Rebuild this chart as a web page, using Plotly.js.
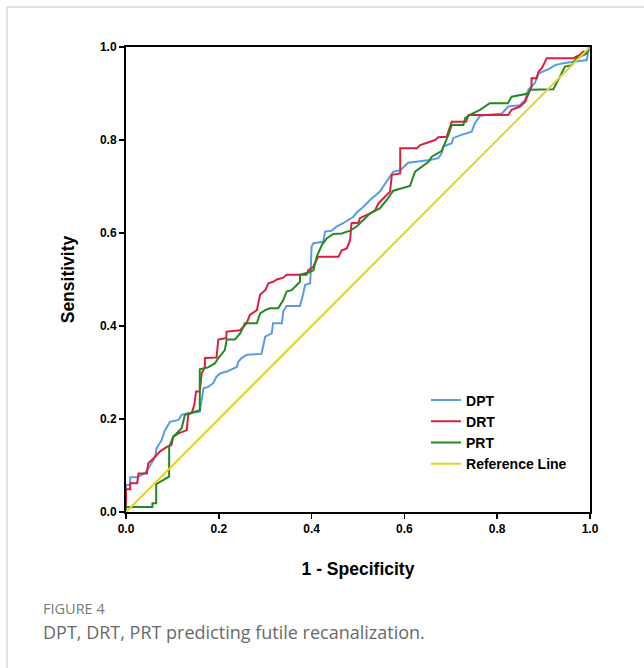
<!DOCTYPE html>
<html>
<head>
<meta charset="utf-8">
<script src="https://cdn.plot.ly/plotly-3.0.1.min.js"></script>
<style>
html,body{margin:0;padding:0;background:#fff;}
#chart{width:644px;height:668px;}
</style>
</head>
<body>
<div id="chart"></div>
<script>
// ROC points (1 - specificity, sensitivity)
const seriesNames = ["DPT", "DRT", "PRT", "Reference Line"];

const fprDPT = [0,0,0.009,0.009,0.024,0.041,0.055,0.063,0.066,0.077,0.084,0.095,0.113,0.120,0.131,0.159,0.167,0.177,0.188,0.195,0.203,0.217,0.239,0.242,0.249,0.260,0.292,0.300,0.314,0.317,0.336,0.339,0.346,0.375,0.382,0.386,0.397,0.400,0.404,0.425,0.429,0.443,0.454,0.468,0.490,0.497,0.508,0.526,0.547,0.562,0.576,0.591,0.608,0.655,0.673,0.680,0.684,0.702,0.705,0.723,0.745,0.752,0.763,0.810,0.824,0.849,0.860,0.867,0.881,0.889,0.899,0.914,0.925,0.942,0.993,0.996,1];
const tprDPT = [0,0.058,0.058,0.075,0.075,0.084,0.105,0.119,0.137,0.155,0.176,0.194,0.198,0.209,0.212,0.216,0.266,0.269,0.277,0.291,0.298,0.302,0.312,0.323,0.331,0.338,0.340,0.377,0.384,0.406,0.406,0.431,0.443,0.443,0.470,0.488,0.492,0.571,0.578,0.581,0.603,0.605,0.614,0.621,0.635,0.644,0.653,0.671,0.689,0.710,0.732,0.735,0.751,0.757,0.761,0.771,0.786,0.793,0.804,0.811,0.818,0.836,0.852,0.857,0.872,0.875,0.886,0.908,0.922,0.943,0.947,0.954,0.961,0.965,0.972,0.990,1];

const fprDRT = [0,0,0.009,0.009,0.024,0.027,0.045,0.048,0.059,0.073,0.088,0.098,0.102,0.113,0.131,0.134,0.142,0.147,0.151,0.159,0.163,0.170,0.170,0.195,0.199,0.216,0.217,0.246,0.260,0.267,0.282,0.289,0.300,0.307,0.317,0.325,0.339,0.346,0.389,0.393,0.404,0.414,0.458,0.465,0.476,0.483,0.486,0.501,0.504,0.526,0.537,0.544,0.551,0.562,0.569,0.573,0.591,0.591,0.627,0.634,0.651,0.666,0.673,0.691,0.702,0.733,0.738,0.824,0.831,0.849,0.860,0.867,0.874,0.874,0.885,0.889,0.896,0.907,0.964,0.978,0.985,0.993,0.996,1];
const tprDRT = [0,0.049,0.049,0.062,0.062,0.083,0.083,0.105,0.115,0.130,0.140,0.144,0.162,0.169,0.176,0.209,0.214,0.230,0.259,0.259,0.298,0.312,0.331,0.332,0.371,0.374,0.388,0.391,0.406,0.424,0.434,0.467,0.477,0.492,0.495,0.500,0.504,0.510,0.510,0.520,0.528,0.549,0.549,0.563,0.567,0.585,0.621,0.622,0.632,0.642,0.649,0.664,0.671,0.682,0.689,0.725,0.728,0.782,0.782,0.789,0.794,0.800,0.806,0.807,0.839,0.839,0.854,0.854,0.865,0.872,0.882,0.897,0.915,0.933,0.933,0.947,0.954,0.976,0.976,0.983,0.990,0.990,0.997,1];

const fprPRT = [0,0,0.057,0.057,0.065,0.065,0.093,0.093,0.102,0.113,0.120,0.127,0.152,0.159,0.159,0.177,0.192,0.199,0.213,0.217,0.235,0.246,0.253,0.256,0.282,0.289,0.300,0.310,0.328,0.339,0.346,0.357,0.375,0.375,0.393,0.404,0.411,0.422,0.433,0.447,0.465,0.483,0.497,0.511,0.526,0.547,0.562,0.576,0.612,0.623,0.637,0.652,0.659,0.670,0.680,0.695,0.702,0.727,0.731,0.741,0.763,0.784,0.823,0.831,0.867,0.871,0.921,0.935,0.946,0.961,0.971,0.978,0.993,0.996,1];
const tprPRT = [0,0.011,0.011,0.019,0.019,0.060,0.076,0.140,0.162,0.173,0.180,0.209,0.216,0.219,0.307,0.311,0.320,0.331,0.348,0.371,0.371,0.384,0.398,0.406,0.406,0.427,0.434,0.438,0.438,0.456,0.474,0.477,0.495,0.510,0.515,0.520,0.549,0.574,0.589,0.598,0.599,0.605,0.614,0.628,0.642,0.653,0.671,0.691,0.701,0.732,0.743,0.753,0.764,0.771,0.776,0.811,0.832,0.832,0.847,0.854,0.865,0.879,0.879,0.893,0.900,0.908,0.909,0.936,0.958,0.961,0.976,0.979,0.986,0.994,1];

const fprRef = [0, 1];
const tprRef = [0, 1];

const tickVals = [0, 0.2, 0.4, 0.6, 0.8, 1.0];
const tickText = ["0.0", "0.2", "0.4", "0.6", "0.8", "1.0"];

const colors = ["#5a9be6", "#dc1f3c", "#228a22", "#e2d424"];

const xs = [fprDPT, fprDRT, fprPRT, fprRef];
const ys = [tprDPT, tprDRT, tprPRT, tprRef];

const traces = seriesNames.map((n, i) => ({
  x: xs[i], y: ys[i], name: n, type: "scatter", mode: "lines",
  line: {color: colors[i], width: 2}
}));

const boldTick = {family: "Liberation Sans, Arial, sans-serif", size: 12, color: "#000", weight: "bold"};
const titleFont = {family: "Liberation Sans, Arial, sans-serif", size: 17.5, color: "#000", weight: "bold"};

const layout = {
  width: 644, height: 668,
  margin: {l: 126, r: 54, t: 47, b: 156},
  paper_bgcolor: "#fff", plot_bgcolor: "#fff",
  showlegend: true,
  xaxis: {
    range: [0, 1], tickvals: tickVals, ticktext: tickText,
    ticks: "outside", ticklen: 5, tickwidth: 1.5, tickcolor: "#000",
    showline: true, mirror: true, linecolor: "#000", linewidth: 2,
    showgrid: false, zeroline: false, tickfont: boldTick,
    title: {text: "1 - Specificity", font: titleFont, standoff: 27}
  },
  yaxis: {
    range: [0, 1], tickvals: tickVals, ticktext: tickText,
    ticks: "outside", ticklen: 5, tickwidth: 1.5, tickcolor: "#000",
    showline: true, mirror: true, linecolor: "#000", linewidth: 2,
    showgrid: false, zeroline: false, tickfont: boldTick,
    title: {text: "Sensitivity", font: titleFont, standoff: 21}
  },
  legend: {
    x: 0.6466, y: 0.2742, xanchor: "left", yanchor: "top",
    bgcolor: "rgba(0,0,0,0)", borderwidth: 0, itemwidth: 30,
    font: {family: "Liberation Sans, Arial, sans-serif", size: 14, color: "#000", weight: "bold"}
  },
  shapes: [
    {type: "line", xref: "paper", yref: "paper", x0: -0.2565, x1: 1.2, y0: 1.086, y1: 1.086, line: {color: "#c4c4c4", width: 1}},
    {type: "line", xref: "paper", yref: "paper", x0: -0.2565, x1: -0.2565, y0: 1.086, y1: -0.4, line: {color: "#c4c4c4", width: 1}}
  ],
  annotations: [
    {xref: "paper", yref: "paper", x: -0.1832, y: -0.2086, xanchor: "left", yanchor: "middle",
     text: "FIGURE 4", showarrow: false,
     font: {family: "Open Sans, Noto Sans, sans-serif", size: 14.5, color: "#7a7a7a"}},
    {xref: "paper", yref: "paper", x: -0.1832, y: -0.2581, xanchor: "left", yanchor: "middle",
     text: "DPT, DRT, PRT predicting futile recanalization.", showarrow: false,
     font: {family: "Open Sans, Noto Sans, sans-serif", size: 18, color: "#6a6a6a"}}
  ]
};

Plotly.newPlot("chart", traces, layout, {displayModeBar: false, staticPlot: true});
</script>
</body>
</html>
